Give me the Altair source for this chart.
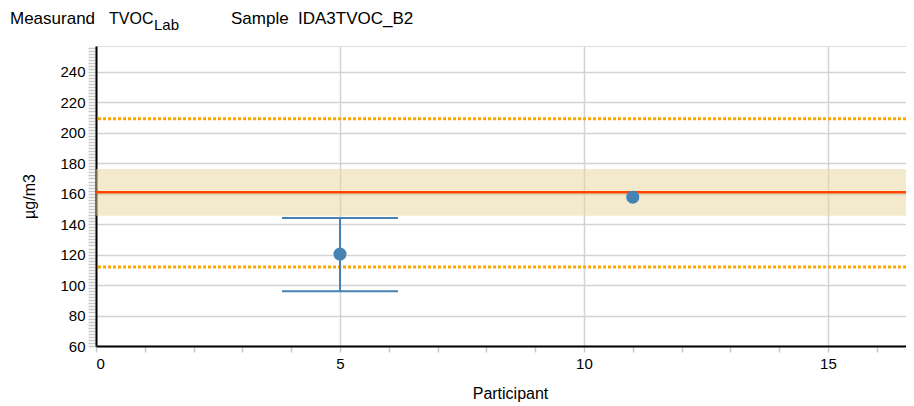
import altair as alt
import pandas as pd

# ---- data ----
participants = [5, 11]
results = [120.4, 157.7]
unc_low = [96.0, None]
unc_high = [144.0, None]

assigned_value = [161.0]
band_low = [145.6]
band_high = [176.3]
limits = [111.8, 209.2]

y_domain = [60, 257]
x_domain = [0, 16.6]
y_tick_values = list(range(60, 257, 2))
x_tick_values = list(range(0, 17))

header_texts = ["Measurand", "TVOC", "Lab", "Sample", "IDA3TVOC_B2"]
header_x = [-86, 13, 58, 135, 202]
header_y = [-22, -22, -16, -22, -22]
header_size = [17, 16, 15, 17, 17]

FONT = "Liberation Sans"
W, H = 810, 300

pts = pd.DataFrame({"participant": participants, "result": results,
                    "lo": unc_low, "hi": unc_high})
err = pts.dropna()

xs = alt.Scale(domain=x_domain, nice=False, zero=False)
ys = alt.Scale(domain=y_domain, nice=False, zero=False)

x_axis = alt.Axis(
    values=x_tick_values, tickCount=100, title="Participant", format="d",
    labelExpr="datum.value % 5 === 0 ? datum.label : ''",
    labelOverlap=False, labelFont=FONT, labelFontSize=15, labelColor="#000",
    labelPadding=4, titleFont=FONT, titleFontSize=16, titleFontWeight="normal",
    titleColor="#000", titlePadding=14, titleX=414,
    tickSize=6, tickColor="#c8c8c8", tickWidth=1.5,
    domainColor="#000", domainWidth=2,
    gridColor="#d3d3d3", gridWidth=1.5,
    gridOpacity={"condition": {"test": "datum.value % 5 === 0", "value": 1}, "value": 0},
)
y_axis = alt.Axis(
    values=y_tick_values, tickCount=200, title="µg/m3",
    labelExpr="datum.value % 20 === 0 && datum.value <= 240 ? datum.label : ''",
    labelOverlap=False, labelFont=FONT, labelFontSize=15, labelColor="#000",
    labelPadding=3, titleFont=FONT, titleFontSize=16, titleFontWeight="normal",
    titleColor="#000", titlePadding=22,
    tickSize=8, tickColor="#c8c8c8", tickWidth=1.5,
    domainColor="#000", domainWidth=2,
    gridColor="#d3d3d3", gridWidth=1.5,
    gridOpacity={"condition": {"test": "datum.value % 20 === 0 && datum.value <= 240", "value": 1}, "value": 0},
)

band = alt.Chart(pd.DataFrame({"lo": band_low, "hi": band_high})).mark_rect(
    color="#e8d49a", opacity=0.5
).encode(
    x=alt.value(0), x2=alt.value(W),
    y=alt.Y("lo:Q", scale=ys, axis=y_axis), y2="hi:Q",
)

lim = alt.Chart(pd.DataFrame({"v": limits})).mark_rule(
    color="#ffa500", strokeWidth=3, strokeDash=[3, 2]
).encode(y=alt.Y("v:Q", scale=ys))

av = alt.Chart(pd.DataFrame({"v": assigned_value})).mark_rule(
    color="#ff4500", strokeWidth=2.5
).encode(y=alt.Y("v:Q", scale=ys))

vline = alt.Chart(err).mark_rule(color="#4682b4", strokeWidth=2).encode(
    x=alt.X("participant:Q", scale=xs, axis=x_axis),
    y=alt.Y("lo:Q", scale=ys), y2="hi:Q",
)
cap_lo = alt.Chart(err).mark_tick(color="#4682b4", orient="horizontal",
                                  size=116, thickness=2, opacity=1).encode(
    x=alt.X("participant:Q", scale=xs), y=alt.Y("lo:Q", scale=ys))
cap_hi = alt.Chart(err).mark_tick(color="#4682b4", orient="horizontal",
                                  size=116, thickness=2, opacity=1).encode(
    x=alt.X("participant:Q", scale=xs), y=alt.Y("hi:Q", scale=ys))

points = alt.Chart(pts).mark_point(filled=True, color="#4682b4", size=170,
                                   opacity=1).encode(
    x=alt.X("participant:Q", scale=xs), y=alt.Y("result:Q", scale=ys))

header_layers = []
for t, hx, hy, fs in zip(header_texts, header_x, header_y, header_size):
    header_layers.append(
        alt.Chart(pd.DataFrame({"t": [t]})).mark_text(
            align="left", baseline="alphabetic", font=FONT,
            fontSize=fs, color="#000"
        ).encode(text=alt.Text("t:N"), x=alt.value(hx), y=alt.value(hy))
    )

chart = alt.layer(band, lim, av, vline, cap_lo, cap_hi, points,
                  *header_layers).properties(
    width=W, height=H,
    autosize=alt.AutoSizeParams(type="none"),
    padding={"left": 88, "top": 38, "right": 0, "bottom": 60},
).configure_view(stroke=None).configure(background="white")

chart.save("out.html", embed_options={"renderer": "svg", "actions": False})
